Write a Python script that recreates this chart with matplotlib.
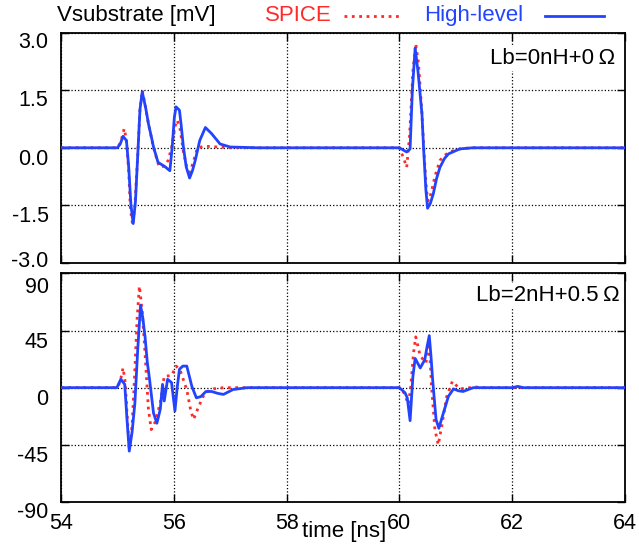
import matplotlib
matplotlib.use("Agg")
import matplotlib.pyplot as plt
from matplotlib.lines import Line2D
from matplotlib.transforms import ScaledTranslation

plt.rcParams['font.family'] = ['Liberation Sans', 'DejaVu Sans']

# top panel: Lb=0nH+0 Ohm
t_hl_0 = [54.0, 55.0, 55.05, 55.10, 55.16, 55.20, 55.24, 55.28, 55.32, 55.36, 55.40, 55.44,
          55.50, 55.55, 55.60, 55.64, 55.72, 55.84, 55.93, 55.97, 56.01, 56.04, 56.10, 56.13,
          56.17, 56.22, 56.28, 56.33, 56.38, 56.46, 56.56, 56.67, 56.82, 57.0, 57.5,
          60.0, 60.13, 60.19, 60.23, 60.28, 60.33, 60.40, 60.43, 60.47, 60.50, 60.55, 60.60,
          60.66, 60.72, 60.80, 60.87, 61.07, 61.3, 64.0]
v_hl_0 = [0, 0, 0.1, 0.30, 0.19, -0.5, -1.5, -1.98, -1.4, -0.2, 1.0, 1.46,
          1.05, 0.63, 0.3, 0.02, -0.38, -0.49, -0.60, 0.0, 0.8, 1.07, 0.98, 0.6,
          0.02, -0.5, -0.79, -0.6, -0.33, 0.19, 0.53, 0.37, 0.10, 0.02, 0,
          0, -0.11, -0.03, 1.5, 2.6, 2.0, 0.89, -0.03, -1.1, -1.58, -1.45, -1.21,
          -0.8, -0.51, -0.28, -0.16, -0.03, 0, 0]

t_sp_0 = [54.0, 55.0, 55.06, 55.12, 55.16, 55.20, 55.23, 55.27, 55.31, 55.36, 55.40, 55.44,
          55.50, 55.55, 55.64, 55.74, 55.83, 55.90, 55.96, 56.02, 56.06, 56.11, 56.17, 56.23,
          56.28, 56.34, 56.42, 56.55, 56.8, 57.0,
          60.0, 60.07, 60.13, 60.18, 60.24, 60.29, 60.34, 60.40, 60.44, 60.48, 60.51, 60.56,
          60.63, 60.72, 60.80, 60.90, 61.1, 61.3, 64.0]
v_sp_0 = [0, 0, 0.15, 0.50, 0.2, -0.6, -1.6, -2.02, -1.5, -0.2, 1.0, 1.5,
          1.05, 0.63, 0.0, -0.5, -0.48, -0.33, 0.0, 0.55, 0.72, 0.5, -0.1, -0.5,
          -0.64, -0.4, 0.0, 0.04, 0.02, 0,
          0, -0.25, -0.51, 0.3, 2.0, 2.72, 2.2, 0.9, -0.2, -1.1, -1.39, -1.2,
          -0.75, -0.33, -0.2, -0.1, -0.02, 0, 0]

# bottom panel: Lb=2nH+0.5 Ohm
t_hl_2 = [54.0, 54.99, 55.06, 55.13, 55.17, 55.21, 55.26, 55.31, 55.36, 55.41, 55.45, 55.49,
          55.53, 55.57, 55.64, 55.70, 55.76, 55.80, 55.83, 55.89, 55.96, 56.02, 56.06, 56.10,
          56.16, 56.23, 56.32, 56.40, 56.48, 56.57, 56.67, 56.78, 56.88, 57.05, 57.3,
          60.0, 60.10, 60.14, 60.19, 60.24, 60.28, 60.37, 60.45, 60.49, 60.53, 60.56, 60.59,
          60.65, 60.70, 60.78, 60.87, 60.96, 61.05, 61.13, 61.31, 62.0, 62.1, 62.2, 64.0]
v_hl_2 = [0, 0, 6.6, 2.6, -25, -50, -35, -12, 30, 65, 55, 40,
          20, 6.5, -20, -28, -17, 2.6, -10.5, 6.6, 4, -18.4, 0, 14.5,
          17, 17, 1, -8, -7, -3, -3, -4.5, -5.3, -1.5, 0,
          0, -4, -8, -26, 9, 23, 15.5, 22, 32, 41, 25, 6.3,
          -25, -32, -20, -6.8, -1, -2.5, -3, 0, 0, 1, 0, 0]

t_sp_2 = [54.0, 55.0, 55.05, 55.10, 55.14, 55.17, 55.21, 55.26, 55.30, 55.35, 55.39, 55.44,
          55.49, 55.55, 55.60, 55.67, 55.76, 55.83, 55.96, 56.04, 56.11, 56.23, 56.30, 56.35,
          56.44, 56.55, 56.7, 56.88,
          60.0, 60.08, 60.16, 60.20, 60.25, 60.29, 60.37, 60.47, 60.53, 60.57, 60.63, 60.69,
          60.75, 60.84, 60.94, 61.07, 61.35, 61.5, 64.0]
v_sp_2 = [0, 0, 5, 15.5, 3.7, -20, -48, -30, 5, 55, 80, 60,
          27, -17, -33, -27, -12, 9, 9.5, 17, 14, -1.6, -18, -25,
          -15, -4, -1, 0,
          0, -4, -13, 0, 27, 40, 25, 19.5, 35, 1, -33, -45,
          -30.5, -7, 5, -1, 0.5, 0, 0]

x_ticks = [54, 56, 58, 60, 62, 64]
y_ticks_top = [-3.0, -1.5, 0.0, 1.5, 3.0]
y_labels_top = ['-3.0', '-1.5', '0.0', '1.5', '3.0']
y_ticks_bot = [-90, -45, 0, 45, 90]
y_labels_bot = ['-90', '-45', '0', '45', '90']

red = '#ff2a2a'
blue = '#2244ff'
fs = 16
tfs = 15.5
lw = 2.0

fig = plt.figure(figsize=(6.39, 5.54), dpi=100)
ax1 = fig.add_axes([0.0955, 0.526, 0.8825, 0.4145])
ax2 = fig.add_axes([0.0955, 0.094, 0.8825, 0.4125])

panels = [
    (ax1, t_sp_0, v_sp_0, t_hl_0, v_hl_0, y_ticks_top, y_labels_top,
     'Lb=0nH+0\u2009\u03a9', 0.982, 0.887, [-4, 9, 9, 8, 7]),
    (ax2, t_sp_2, v_sp_2, t_hl_2, v_hl_2, y_ticks_bot, y_labels_bot,
     'Lb=2nH+0.5\u2009\u03a9', 0.99, 0.905, [8, 9, 9, 9, 12]),
]
for ax, ts, vs, th, vh, yt, yl, label, lx, ly, shifts in panels:
    ax.plot(ts, vs, color=red, linestyle=':', linewidth=lw, zorder=3)
    ax.plot(th, vh, color=blue, linewidth=lw, zorder=4)
    ax.set_xlim(54, 64)
    ax.set_ylim(yt[0], yt[-1])
    ax.set_xticks(x_ticks)
    ax.set_yticks(yt)
    ax.set_yticklabels(yl)
    ax.grid(True, color='black', linestyle=':', linewidth=0.9)
    ax.set_axisbelow(True)
    ax.tick_params(direction='in', top=True, right=True, length=6, width=1, labelsize=tfs, pad=9)
    for s in ax.spines.values():
        s.set_linewidth(1.3)
    # gnuplot puts the y labels a bit below their ticks
    for txt, dy in zip(ax.get_yticklabels(), shifts):
        txt.set_transform(txt.get_transform() + ScaledTranslation(0, -dy / 100, fig.dpi_scale_trans))
    ax.text(lx, ly, label, transform=ax.transAxes, ha='right', va='center', fontsize=fs,
            bbox=dict(facecolor='white', edgecolor='none', pad=1), zorder=5)

ax1.tick_params(labelbottom=False)
ax2.tick_params(axis='x', pad=8)

fig.text(0.089, 0.972, 'Vsubstrate [mV]', fontsize=fs, ha='left', va='center')
fig.text(0.415, 0.972, 'SPICE', fontsize=fs, color=red, ha='left', va='center')
fig.text(0.6635, 0.972, 'High-level', fontsize=fs, color=blue, ha='left', va='center')
fig.add_artist(Line2D([0.538, 0.629], [0.971, 0.971], color=red, linestyle=':', linewidth=lw))
fig.add_artist(Line2D([0.853, 0.945], [0.971, 0.971], color=blue, linewidth=lw))
fig.text(0.538, 0.031, 'time [ns]', fontsize=fs, ha='center', va='baseline')

plt.savefig('out.png', dpi=100)
